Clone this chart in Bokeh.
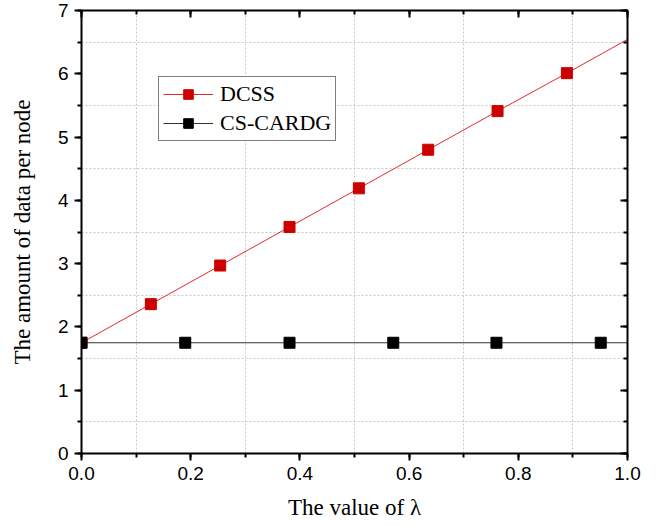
from bokeh.plotting import figure
from bokeh.models import (LinearAxis, FixedTicker, SingleIntervalTicker, Range1d, Legend, LegendItem,
                          PrintfTickFormatter)
from bokeh.embed import file_html
from bokeh.resources import INLINE

# Data
dcss_x = [0.0, 0.127, 0.254, 0.381, 0.508, 0.635, 0.762, 0.889, 1.016]
dcss_y = [1.75, 2.36, 2.97, 3.58, 4.19, 4.80, 5.41, 6.01, 6.62]
cs_x = [0.0, 0.19, 0.381, 0.571, 0.76, 0.951, 1.14]
cs_y = [1.75, 1.75, 1.75, 1.75, 1.75, 1.75, 1.75]
x_title = "The value of λ"
y_title = "The amount of data per node"

p = figure(width=657, height=526, output_backend="svg", toolbar_location=None,
           x_range=Range1d(0, 1.0), y_range=Range1d(0, 7),
           min_border_left=81, min_border_right=30, min_border_top=10, min_border_bottom=73,
           x_axis_location=None, y_axis_location=None)
p.outline_line_color = None
p.background_fill_color = "white"

# grids at half-step positions
p.xgrid.ticker = FixedTicker(ticks=[0.1, 0.3, 0.5, 0.7, 0.9])
p.ygrid.ticker = FixedTicker(ticks=[0.5, 1.5, 2.5, 3.5, 4.5, 5.5, 6.5])
for g in (p.xgrid, p.ygrid):
    g.grid_line_color = "#c8c8c8"
    g.grid_line_dash = "2 2"
    g.grid_line_width = 1

def style(ax, labels=True, inward=False):
    ax.axis_line_width = 2
    ax.axis_line_color = "black"
    ax.major_tick_line_width = 2
    ax.minor_tick_line_width = 2
    ax.major_tick_line_color = "black"
    ax.minor_tick_line_color = "black"
    if inward:
        ax.major_tick_in = 7
        ax.major_tick_out = 0
        ax.minor_tick_in = 4
        ax.minor_tick_out = 0
        ax.major_label_text_font_size = "0px"
        ax.major_label_text_color = None
    else:
        ax.major_tick_in = 0
        ax.major_tick_out = 7
        ax.minor_tick_in = 0
        ax.minor_tick_out = 4
        ax.major_label_text_font = "Liberation Sans"
        ax.major_label_text_font_size = "19px"
        ax.major_label_text_color = "black"
        ax.major_label_standoff = 6
        ax.axis_label_text_font = "Liberation Serif"
        ax.axis_label_text_font_size = "23px"
        ax.axis_label_text_font_style = "normal"
        ax.axis_label_text_color = "black"

xt = SingleIntervalTicker(interval=0.2, num_minor_ticks=2)
yt = SingleIntervalTicker(interval=1, num_minor_ticks=2)

xb = LinearAxis(ticker=xt, axis_label=x_title, formatter=PrintfTickFormatter(format="%.1f"))
style(xb)
xb.axis_label_standoff = 12
yl = LinearAxis(ticker=yt, axis_label=y_title)
style(yl)
yl.axis_label_standoff = 20
xa = LinearAxis(ticker=SingleIntervalTicker(interval=0.2, num_minor_ticks=2))
style(xa, inward=True)
yr = LinearAxis(ticker=SingleIntervalTicker(interval=1, num_minor_ticks=2))
style(yr, inward=True)
p.add_layout(xb, "below")
p.add_layout(yl, "left")
p.add_layout(xa, "above")
p.add_layout(yr, "right")

r1l = p.line(dcss_x, dcss_y, line_color="#e32b2b", line_width=1)
r1m = p.scatter(dcss_x, dcss_y, marker="square", size=11, fill_color="#cc0000", line_color="#cc0000")
r2l = p.line(cs_x, cs_y, line_color="#333333", line_width=1)
r2m = p.scatter(cs_x, cs_y, marker="square", size=11, fill_color="black", line_color="black")

legend = Legend(items=[LegendItem(label="DCSS", renderers=[r1l, r1m]),
                       LegendItem(label="CS-CARDG", renderers=[r2l, r2m])],
                location=(77, 312))
legend.label_text_font = "Liberation Serif"
legend.label_text_font_size = "22px"
legend.label_text_color = "black"
legend.label_height = 22
legend.glyph_width = 50
legend.glyph_height = 24
legend.label_standoff = 7
legend.padding = 4
legend.spacing = 3
legend.margin = 0
legend.border_line_color = "black"
legend.border_line_width = 1
legend.background_fill_alpha = 1
p.add_layout(legend, "center")

open("out.html", "w").write(file_html(p, INLINE))
